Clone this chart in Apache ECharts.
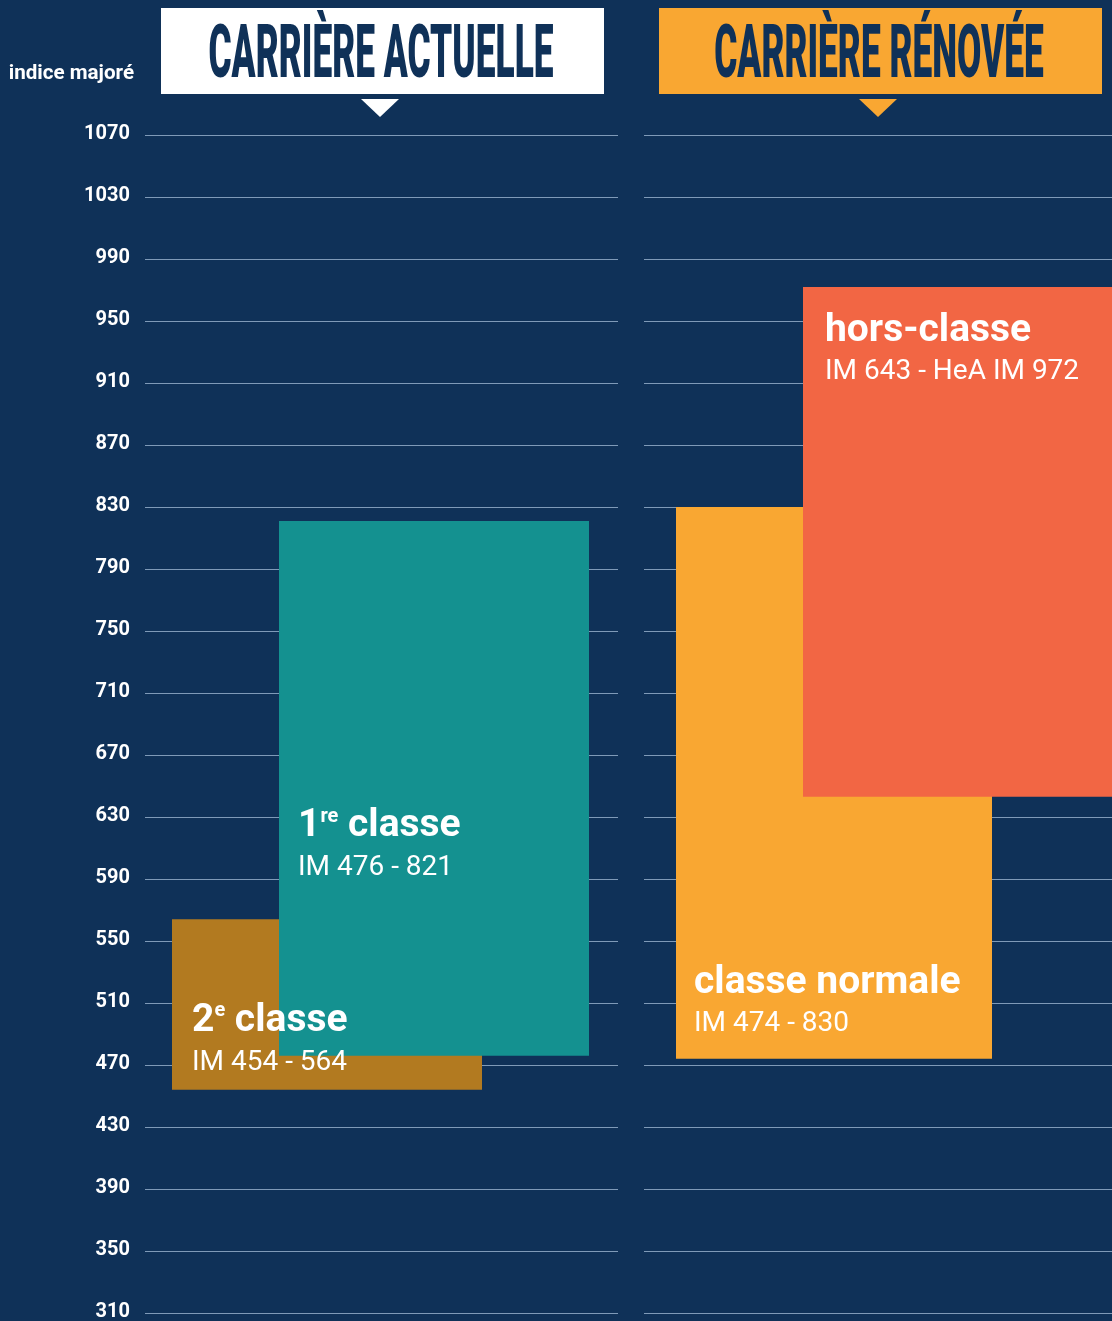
<!DOCTYPE html>
<html>
<head>
<meta charset="utf-8">
<script src="https://cdn.jsdelivr.net/npm/echarts@6/dist/echarts.min.js"></script>
<style>
html,body{margin:0;padding:0;background:#0f3158;}
#c{width:1112px;height:1321px;}
</style>
</head>
<body>
<div id="c"></div>
<script>
// ---- data ----
const panelTitles = ['CARRIÈRE ACTUELLE', 'CARRIÈRE RÉNOVÉE'];
const axisName = 'indice majoré';
const classNames = ['2e classe', '1re classe', 'classe normale', 'hors-classe'];
const imLow = [454, 476, 474, 643];
const imHigh = [564, 821, 830, 972];
const imText = ['IM 454 - 564', 'IM 476 - 821', 'IM 474 - 830', 'IM 643 - HeA IM 972'];
const panelOf = [0, 0, 1, 1];
const yMin = 310, yMax = 1070, yStep = 40;

// ---- styles / layout ----
const FONT = 'Roboto';
const BG = '#0f3158';
const barColors = ['#b27a20', '#149190', '#f9a732', '#f26644'];
const headerFill = ['#ffffff', '#f9a732'];
// bar horizontal extent, px from panel left
const BAR_X = [[27, 337], [134, 444], [32, 348], [159, 472]];
// label anchors: edge of bar, offsets of title/subtitle centre, left inset
const LABEL = [
  {edge: 'bottom', t: -69, s: -27, dx: 20},
  {edge: 'bottom', t: -229, s: -188, dx: 19},
  {edge: 'bottom', t: -76, s: -35, dx: 18},
  {edge: 'top', t: 44, s: 85, dx: 22}
];

function richName(name) {
  const m = name.match(/^(\d)(re|e) (.*)$/);
  if (m) return '{n|' + m[1] + '}{s|' + m[2] + '}{n| ' + m[3] + '}';
  return '{n|' + name + '}';
}

function renderItem(params, api) {
  const i = api.value(2);
  const cs = params.coordSys;
  const top = api.coord([0, api.value(1)])[1];
  const bot = api.coord([0, api.value(0)])[1];
  const x0 = cs.x + BAR_X[i][0], x1 = cs.x + BAR_X[i][1];
  const L = LABEL[i];
  const ref = L.edge === 'top' ? top : bot;
  return {
    type: 'group',
    children: [
      {type: 'rect', z2: 1, shape: {x: x0, y: top, width: x1 - x0, height: bot - top},
        style: {fill: barColors[i]}},
      {type: 'text', z2: 10, style: {
        x: x0 + L.dx, y: ref + L.t, text: richName(classNames[i]),
        align: 'left', verticalAlign: 'middle', fill: '#fff',
        fontFamily: FONT, fontSize: 39, fontWeight: 'bold',
        rich: {
          n: {fontFamily: FONT, fontSize: 39, fontWeight: 'bold', fill: '#fff', lineHeight: 40},
          s: {fontFamily: FONT, fontSize: 20, fontWeight: 'bold', fill: '#fff', verticalAlign: 'top', lineHeight: 26}
        }
      }},
      {type: 'text', z2: 10, style: {
        x: x0 + L.dx, y: ref + L.s, text: imText[i],
        align: 'left', verticalAlign: 'middle', fill: '#fff',
        fontFamily: FONT, fontSize: 28, fontWeight: 'normal'
      }}
    ]
  };
}

function panelData(p) {
  const out = [];
  for (let i = 0; i < classNames.length; i++) {
    if (panelOf[i] === p) out.push([imLow[i], imHigh[i], i]);
  }
  return out;
}

const yAxisBase = {
  type: 'value', min: yMin, max: yMax, interval: yStep,
  axisLine: {show: false}, axisTick: {show: false},
  splitLine: {show: true, lineStyle: {color: '#7f9ab8', width: 1}}
};

const option = {
  backgroundColor: BG,
  animation: false,
  grid: [
    {left: 145, width: 473, top: 135, bottom: 8, outerBoundsMode: 'none', containLabel: false},
    {left: 644, right: 0, top: 135, bottom: 8, outerBoundsMode: 'none', containLabel: false}
  ],
  xAxis: [
    {gridIndex: 0, type: 'value', min: 0, max: 1, show: false},
    {gridIndex: 1, type: 'value', min: 0, max: 1, show: false}
  ],
  yAxis: [
    Object.assign({}, yAxisBase, {gridIndex: 0,
      axisLabel: {show: true, color: '#fff', fontFamily: FONT, fontSize: 20, fontWeight: 'bold', margin: 15,
        verticalAlign: 'bottom', lineHeight: 3, formatter: v => String(v),
        showMinLabel: true, showMaxLabel: true}}),
    Object.assign({}, yAxisBase, {gridIndex: 1, axisLabel: {show: false}})
  ],
  series: [0, 1].map(p => ({
    type: 'custom', xAxisIndex: p, yAxisIndex: p, clip: false,
    encode: {y: [0, 1]},
    renderItem: renderItem,
    data: panelData(p)
  })),
  graphic: [
    {type: 'rect', shape: {x: 161, y: 8, width: 443, height: 86}, style: {fill: headerFill[0]}},
    {type: 'polygon', shape: {points: [[361, 99], [399, 99], [380, 117]]}, style: {fill: headerFill[0]}},
    {type: 'text', x: 381, y: 58, scaleX: 0.477, style: {
      text: panelTitles[0], fontFamily: FONT, fontWeight: 900, fontSize: 74, fill: BG,
      align: 'center', verticalAlign: 'middle', textAlign: 'center', textVerticalAlign: 'middle'}},
    {type: 'rect', shape: {x: 659, y: 8, width: 443, height: 86}, style: {fill: headerFill[1]}},
    {type: 'polygon', shape: {points: [[859, 99], [897, 99], [878, 117]]}, style: {fill: headerFill[1]}},
    {type: 'text', x: 879, y: 58, scaleX: 0.477, style: {
      text: panelTitles[1], fontFamily: FONT, fontWeight: 900, fontSize: 74, fill: BG,
      align: 'center', verticalAlign: 'middle', textAlign: 'center', textVerticalAlign: 'middle'}},
    {type: 'text', x: 134, y: 74, style: {
      text: axisName, fontFamily: FONT, fontWeight: 'bold', fontSize: 20.6, fill: '#fff',
      align: 'right', verticalAlign: 'middle', textAlign: 'right', textVerticalAlign: 'middle'}}
  ]
};

const chart = echarts.init(document.getElementById('c'), null, {renderer: 'canvas'});
chart.setOption(option);
</script>
</body>
</html>
